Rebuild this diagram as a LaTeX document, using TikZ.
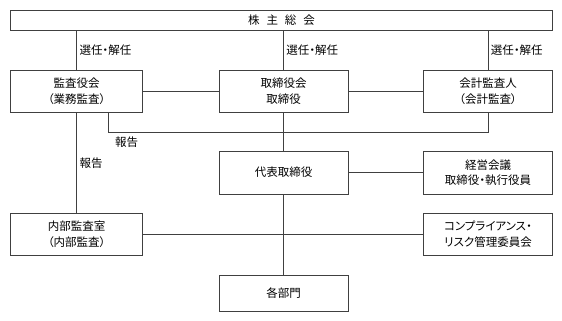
\documentclass[tikz,border=0pt]{standalone}
\usepackage{fontspec}
\setmainfont[RawFeature=+palt]{Noto Sans CJK JP}
\usepackage{tikz}
\usetikzlibrary{positioning, calc}
\newcommand\titlegap{\spaceskip=0.6em\relax}
\tikzstyle{board} = [rectangle,
minimum width=129pt,
minimum height=42pt,
text centered,
align=center,
inner sep=0pt,
draw=black!75,
line width=0.8pt,
fill=white,
font=\fontsize{11.5}{15.5}\selectfont]
\tikzstyle{note} = [inner sep=0pt, font=\fontsize{11.5}{15.5}\selectfont]
\tikzstyle{link} = [draw=black!75, line width=0.8pt]

\begin{document}
\begin{tikzpicture}[x=1pt, y=-1pt]
                \useasboundingbox (0,0) rectangle (562,321);
                \node (soukai) [board, minimum width=541.6pt, minimum height=20.7pt, execute at begin node=\titlegap] at (281.5,20.35) {株 主 総 会};
                \node (kansa) [board, minimum width=132pt] at (76.7,91.2) {監査役会\\（業務監査）};
                \node (torishimari) [board] at (283.5,91.2) {取締役会\\取締役};
                \node (kaikei) [board] at (488,91.2) {会計監査人\\（会計監査）};
                \node (daihyo) [board, minimum height=43pt] at (283.5,172.5) {代表取締役};
                \node (keiei) [board, minimum height=43pt] at (488,172.5) {経営会議\\取締役・執行役員};
                \node (naibu) [board, minimum width=132pt] at (76.7,234.2) {内部監査室\\（内部監査）};
                \node (comp) [board] at (488,234.2) {コンプライアンス・\\リスク管理委員会};
                \node (bumon) [board, minimum height=36.3pt] at (283.5,293.2) {各部門};
                \coordinate (houkoku) at (108.3,132);

                \draw [link] (soukai.south -| kansa) -- node[note, anchor=west, xshift=2.5pt] {選任・解任} (kansa.north);
                \draw [link] (soukai.south -| torishimari) -- node[note, anchor=west, xshift=2.5pt] {選任・解任} (torishimari.north);
                \draw [link] (soukai.south -| kaikei) -- node[note, anchor=west, xshift=2.5pt] {選任・解任} (kaikei.north);
                \draw [link] (kansa) -- (torishimari);
                \draw [link] (torishimari) -- (kaikei);
                \draw [link] (kansa.south -| houkoku) -- (houkoku) node[note, anchor=north west, xshift=6.5pt, yshift=-4pt] {報告} -| (kaikei.south);
                \draw [link] (torishimari) -- (daihyo);
                \draw [link] (daihyo) -- (keiei);
                \draw [link] (kansa) -- node[note, anchor=west, xshift=2.5pt] {報告} (naibu);
                \draw [link] (naibu) -- (comp);
                \draw [link] (daihyo) -- (bumon);
            \end{tikzpicture}
\end{document}
